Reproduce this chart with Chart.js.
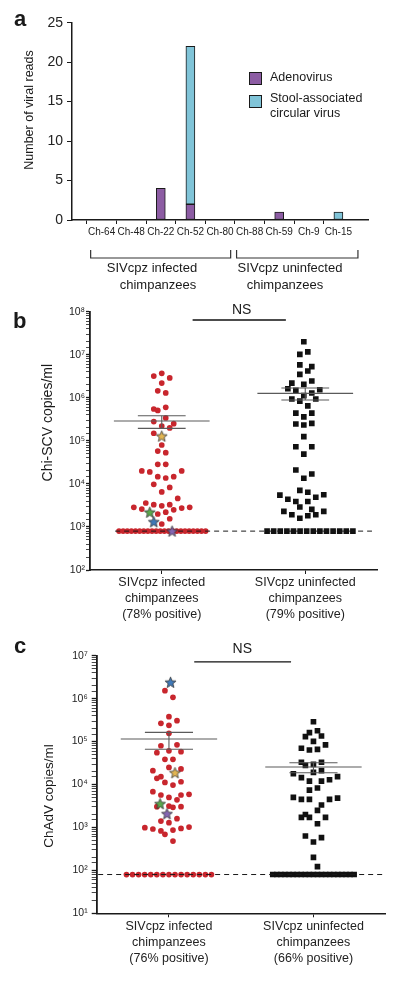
<!DOCTYPE html>
<html lang="en">
<head>
<meta charset="UTF-8">
<title>Stool viruses in SIVcpz infected and uninfected chimpanzees</title>
<script src="https://cdn.jsdelivr.net/npm/chart.js"></script>
<style>
  body { margin: 0; background: #fff; }
  #wrap { position: relative; width: 400px; height: 981px; }
  canvas { position: absolute; left: 0; }
</style>
</head>
<body>
<div id="wrap">
  <canvas id="chartA" width="400" height="293" style="top:0"></canvas>
  <canvas id="chartB" width="400" height="335" style="top:293px"></canvas>
  <canvas id="chartC" width="400" height="353" style="top:628px"></canvas>
</div>
<script>
// ---------- panel a: viral reads per chimp
const chimps     = ['Ch-64', 'Ch-48', 'Ch-22', 'Ch-52', 'Ch-80', 'Ch-88', 'Ch-59', 'Ch-9', 'Ch-15'];
const adenoReads = [0, 0, 4, 2, 0, 0, 1, 0, 0];
const scvReads   = [0, 0, 0, 20, 0, 0, 0, 0, 1];   // stacked on top of adeno
const readTicks  = [0, 5, 10, 15, 20, 25];

// ---------- panel b: Chi-SCV copies/ml (slot = beeswarm step left/right of the group)
const scvInfSlots = [-2,0,2,0,-1,1,-2,-1,1,1,-2,0,2,3,-2,0,-1,1,-1,1,-5,-3,5,-1,1,3,-2,2,0,4,-4,-2,0,2,-7,-5,3,5,7,-1,1,2,0];
const scvInfVals  = [3.2e6,3.7e6,2.9e6,2.2e6,1.45e6,1.3e6,5.5e5,5.1e5,6.0e5,3.4e5,2.8e5,2.2e5,2.0e5,2.5e5,1.5e5,8.0e4,5.8e4,5.3e4,2.85e4,2.85e4,
                     2.0e4,1.9e4,2.0e4,1.47e4,1.37e4,1.47e4,9.8e3,8.3e3,6.5e3,4.6e3,3.6e3,3.3e3,3.1e3,3.3e3,2.85e3,2.6e3,2.5e3,2.75e3,2.85e3,2.0e3,
                     2.2e3,1.55e3,1.17e3];
const scvInfStarSlots = [0, -3, -2, 2.6];
const scvInfStarVals  = [1.29e5, 2.2e3, 1.32e3, 800];
const scvInfNeg = 22;

const scvUninfSlots = [0,-1,1,-1,2,1,-1,-3,2,0,-4,-2,2,4,0,-3,-1,3,1,-2,2,0,-2,0,2,0,-2,2,0,-2,2,0,-1,1,-6,-4,-2,1,3,5,-1,-5,-3,-1,1,2,3,5];
const scvUninfVals  = [2.0e7,1.02e7,1.17e7,5.8e6,5.3e6,4.2e6,3.5e6,2.2e6,2.45e6,2.05e6,1.62e6,1.49e6,1.29e6,1.54e6,1.12e6,9.4e5,8.4e5,9.4e5,6.5e5,4.4e5,
                       4.4e5,3.6e5,2.46e5,2.33e5,2.55e5,1.25e5,7.3e4,7.3e4,4.9e4,2.1e4,1.7e4,1.35e4,7.1e3,6.4e3,5.5e3,4.4e3,3.9e3,3.9e3,4.9e3,5.6e3,
                       2.9e3,2.3e3,1.92e3,1.59e3,1.82e3,2.57e3,1.92e3,2.3e3];
const scvUninfNeg = 14;
const scvLOD = 800;
const scvMean = [2.9e5, 1.27e6];
const scvSemLo = [1.95e5, 8.9e5];
const scvSemHi = [3.83e5, 1.69e6];
const scvLabels = [['SIVcpz infected', 'chimpanzees', '(78% positive)'], ['SIVcpz uninfected', 'chimpanzees', '(79% positive)']];

// ---------- panel c: ChAdV copies/ml
const adInfSlots = [-1,1,0,-2,0,2,0,-2,2,-3,0,3,-1,1,0,-4,3,-3,-2,-1,1,3,-4,-2,0,3,5,2,-3,0,1,3,-2,0,2,-6,-4,-2,-1,1,3,5,1];
const adInfVals  = [1.53e6,1.07e6,3.8e5,2.66e5,2.39e5,3.06e5,1.56e5,8.0e4,8.4e4,5.5e4,6.1e4,5.8e4,3.86e4,3.86e4,2.5e4,2.1e4,2.3e4,1.39e4,1.52e4,1.12e4,
                    9.7e3,1.16e4,6.8e3,5.7e3,5.0e3,5.7e3,5.9e3,4.4e3,3.04e3,3.15e3,2.94e3,3.04e3,1.41e3,1.29e3,1.6e3,985,920,830,690,870,
                    950,1020,480];
const adInfStarSlots = [0.4, 1.5, -2.2, -0.5];
const adInfStarVals  = [2.4e6, 1.88e4, 3.57e3, 2.09e3];
const adInfNeg = 15;

const adUninfSlots = [0,-1,1,-2,2,0,-3,-1,1,3,-3,-2,0,2,-5,0,2,-3,-1,2,4,6,-1,1,-5,-3,-1,4,6,2,1,-3,-2,-1,3,1,-2,2,0,0,1];
const adUninfVals  = [2.9e5,1.61e5,1.79e5,1.30e5,1.35e5,1.01e5,7.0e4,6.35e4,6.6e4,8.4e4,3.3e4,2.8e4,2.95e4,3.3e4,1.78e4,1.92e4,2.1e4,1.44e4,1.2e4,1.2e4,
                      1.29e4,1.52e4,7.4e3,8.3e3,5.0e3,4.5e3,4.5e3,4.5e3,4.8e3,3.33e3,2.5e3,1.72e3,2.0e3,1.72e3,1.72e3,1.22e3,631,577,457,201,
                      122];
const adUninfNeg = 21;
const adLOD = 80;
const adMean = [1.15e5, 2.55e4];
const adSemLo = [6.6e4, 1.88e4];
const adSemHi = [1.64e5, 3.2e4];
const adLabels = [['SIVcpz infected', 'chimpanzees', '(76% positive)'], ['SIVcpz uninfected', 'chimpanzees', '(66% positive)']];

// ---------- styling
const FONT = "'Liberation Sans', Arial, Helvetica, sans-serif";
Chart.defaults.font.family = FONT;
Chart.defaults.color = '#222';
const PURPLE = '#8c5ca3', LIGHTBLUE = '#80c4d8', RED = '#c8262d', INK = '#1a1a1a', MEANGREY = '#5a5a5a';
const STAR_GOLD = '#e2b552', STAR_GREEN = '#5aa84c', STAR_BLUE = '#3f79b8', STAR_PURPLE = '#8466b2';
const SLOT = 0.0556;     // one beeswarm step in x units

function starImg(fill) {
  const c = document.createElement('canvas');
  c.width = c.height = 13;
  const g = c.getContext('2d');
  g.beginPath();
  for (let i = 0; i < 10; i++) {
    const r = i % 2 ? 2.5 : 5.8;
    const a = -Math.PI / 2 + i * Math.PI / 5;
    g.lineTo(6.5 + r * Math.cos(a), 7 + r * Math.sin(a));
  }
  g.closePath();
  g.fillStyle = fill; g.fill();
  g.strokeStyle = '#333'; g.lineWidth = 0.8; g.stroke();
  return c;
}

const swarm = (center, slots, vals) => vals.map((v, i) => ({ x: center + slots[i] * SLOT, y: v }));
const row = (n, center, step, y) => Array.from({ length: n }, (_, i) => ({ x: center + (i - (n - 1) / 2) * step, y }));
const seg = (x0, x1, y0, y1, color, width, dash) => ({
  type: 'scatter', showLine: true, pointRadius: 0, borderColor: color, borderWidth: width,
  borderDash: dash || [], data: [{ x: x0, y: y0 }, { x: x1, y: y1 }], order: 1
});
function meanSem(center, mean, lo, hi) {
  return [
    seg(center - 0.667, center + 0.667, mean, mean, MEANGREY, 1.1),
    seg(center - 0.333, center + 0.333, hi, hi, MEANGREY, 1.1),
    seg(center - 0.333, center + 0.333, lo, lo, MEANGREY, 1.1),
    seg(center, center, lo, hi, MEANGREY, 1.1)
  ];
}

const SUP = { '0': '⁰', '1': '¹', '2': '²', '3': '³', '4': '⁴', '5': '⁵', '6': '⁶', '7': '⁷', '8': '⁸', '9': '⁹' };
function powLabel(v) {
  const e = Math.log10(v);
  if (Math.abs(e - Math.round(e)) > 1e-6) return '';
  return '10' + String(Math.round(e)).split('').map(d => SUP[d]).join('');
}

// texts drawn straight onto a panel's canvas
function textPlugin(items, extra) {
  return {
    id: 'panelText',
    afterDraw(chart) {
      const ctx = chart.ctx;
      items.forEach(t => {
        ctx.save();
        ctx.font = t.font;
        ctx.fillStyle = '#1a1a1a';
        ctx.textAlign = t.align || 'center';
        ctx.textBaseline = t.base || 'middle';
        ctx.translate(t.x, t.y);
        if (t.rot) ctx.rotate(t.rot);
        ctx.fillText(t.text, 0, 0);
        ctx.restore();
      });
      if (extra) extra(chart);
    }
  };
}

// ================= panel a
const padRow = arr => [null, ...arr.map(v => v || null), null];
const lastIdx = chimps.length + 1;

new Chart(document.getElementById('chartA'), {
  type: 'bar',
  data: {
    labels: ['', ...chimps, ''],
    datasets: [
      { label: 'Adenovirus', data: padRow(adenoReads), backgroundColor: PURPLE, borderColor: INK, borderWidth: 1, borderSkipped: false, barThickness: 9 },
      { label: 'Stool-associated circular virus', data: padRow(scvReads), backgroundColor: LIGHTBLUE, borderColor: INK, borderWidth: 1, borderSkipped: false, barThickness: 9 }
    ]
  },
  options: {
    responsive: false, animation: false,
    layout: { padding: { top: 22.7, right: 32, left: 0, bottom: 0 } },
    plugins: { legend: { display: false }, tooltip: { enabled: false } },
    scales: {
      x: {
        stacked: true, offset: false,
        grid: { drawOnChartArea: false, tickLength: 4, color: c => (c.index === 0 || c.index === lastIdx) ? 'rgba(0,0,0,0)' : INK },
        border: { color: INK, width: 1.5 },
        ticks: { font: { size: 10 }, padding: 2, maxRotation: 0, autoSkip: false },
        afterFit: s => { s.height = 73; }
      },
      y: {
        stacked: true, min: 0, max: 25,
        afterBuildTicks: s => { s.ticks = readTicks.map(v => ({ value: v })); },
        ticks: { font: { size: 14 }, padding: 4 },
        grid: { drawOnChartArea: false, tickLength: 5, color: INK },
        border: { color: INK, width: 1.5 },
        afterFit: s => { s.width = 72; }
      }
    }
  },
  plugins: [textPlugin([
    { text: 'a', x: 14, y: 26, font: 'bold 22px ' + FONT, align: 'left', base: 'alphabetic' },
    { text: 'Number of viral reads', x: 30, y: 110, font: '12.5px ' + FONT, rot: -Math.PI / 2 },
    { text: 'Adenovirus', x: 270, y: 78, font: '12.5px ' + FONT, align: 'left' },
    { text: 'Stool-associated', x: 270, y: 99, font: '12.5px ' + FONT, align: 'left' },
    { text: 'circular virus', x: 270, y: 114, font: '12.5px ' + FONT, align: 'left' },
    { text: 'SIVcpz infected', x: 152, y: 268, font: '13px ' + FONT },
    { text: 'chimpanzees', x: 158, y: 285, font: '13px ' + FONT },
    { text: 'SIVcpz uninfected', x: 290, y: 268, font: '13px ' + FONT },
    { text: 'chimpanzees', x: 285, y: 285, font: '13px ' + FONT }
  ], chart => {
    const ctx = chart.ctx;
    const xs = chart.scales.x;
    // legend swatches
    [[PURPLE, 72], [LIGHTBLUE, 95]].forEach(([col, y]) => {
      ctx.fillStyle = col; ctx.fillRect(249, y, 13, 12.5);
      ctx.strokeStyle = INK; ctx.lineWidth = 1; ctx.strokeRect(249.5, y + 0.5, 12, 12);
    });
    // group brackets
    ctx.strokeStyle = '#333'; ctx.lineWidth = 1.2;
    [[0.63, 5.36], [5.56, 9.66]].forEach(([a, b]) => {
      const x0 = xs.getPixelForValue(a), x1 = xs.getPixelForValue(b);
      ctx.beginPath();
      ctx.moveTo(x0, 250); ctx.lineTo(x0, 258); ctx.lineTo(x1, 258); ctx.lineTo(x1, 250);
      ctx.stroke();
    });
  })]
});

// ================= panels b and c
function swarmPanel(id, cfg) {
  const groupX = [1, 3];
  const datasets = [
    { data: cfg.starPts, pointStyle: cfg.starImgs, pointRadius: 6, order: 0 },
    { data: cfg.dots, pointStyle: 'circle', pointRadius: 2.85, backgroundColor: RED, borderWidth: 0, order: 2 },
    { data: cfg.squares, pointStyle: 'rect', pointRadius: 4, backgroundColor: '#111', borderWidth: 0, order: 2 },
    seg(cfg.lodFrom, cfg.lodTo, cfg.lod, cfg.lod, INK, 1, [5, 4]),
    seg(cfg.nsFrom, cfg.nsTo, cfg.nsY, cfg.nsY, '#111', 1.4),
    ...meanSem(groupX[0], cfg.mean[0], cfg.lo[0], cfg.hi[0]),
    ...meanSem(groupX[1], cfg.mean[1], cfg.lo[1], cfg.hi[1])
  ];
  new Chart(document.getElementById(id), {
    type: 'scatter',
    data: { datasets },
    options: {
      responsive: false, animation: false,
      layout: { padding: { top: cfg.padTop, right: cfg.padRight, left: 0, bottom: 0 } },
      plugins: { legend: { display: false }, tooltip: { enabled: false } },
      scales: {
        x: {
          type: 'linear', min: 0, max: 4,
          afterBuildTicks: s => { s.ticks = groupX.map(v => ({ value: v })); },
          ticks: {
            callback: v => cfg.labels[v === 1 ? 0 : 1],
            font: { size: 12.5, lineHeight: 1.28 }, padding: cfg.xPad, maxRotation: 0, autoSkip: false
          },
          grid: { drawOnChartArea: false, tickLength: 4, color: INK },
          border: { color: INK, width: 1.5 },
          afterFit: s => { s.height = cfg.xHeight; }
        },
        y: {
          type: 'logarithmic', min: cfg.yMin, max: cfg.yMax,
          ticks: { autoSkip: false, callback: v => powLabel(v), font: { size: 10.5 }, padding: cfg.yPad },
          grid: {
            drawOnChartArea: false, tickLength: cfg.tickLen, color: INK,
            tickWidth: c => (c.tick && powLabel(c.tick.value)) ? 1.3 : 0.8
          },
          border: { color: INK, width: 1.8 },
          afterFit: s => { s.width = cfg.yWidth; }
        }
      }
    },
    plugins: [textPlugin(cfg.texts)]
  });
}

const starsBImgs = [STAR_GOLD, STAR_GREEN, STAR_BLUE, STAR_PURPLE].map(starImg);
swarmPanel('chartB', {
  starPts: swarm(1, scvInfStarSlots, scvInfStarVals), starImgs: starsBImgs,
  dots: swarm(1, scvInfSlots, scvInfVals).concat(row(scvInfNeg, 1.008, 0.0575, scvLOD)),
  squares: swarm(2.98, scvUninfSlots, scvUninfVals).concat(row(scvUninfNeg, 3.066, 0.092, scvLOD)),
  lod: scvLOD, lodFrom: 0.35, lodTo: 3.93,
  nsY: 6.4e7, nsFrom: 1.43, nsTo: 2.73,
  mean: scvMean, lo: scvSemLo, hi: scvSemHi, labels: scvLabels,
  yMin: 1e2, yMax: 1e8, padTop: 18.7, padRight: 23, xHeight: 58, yWidth: 90, xPad: 1, yPad: 1, tickLen: 4,
  texts: [
    { text: 'b', x: 13, y: 35.3, font: 'bold 22px ' + FONT, align: 'left', base: 'alphabetic' },
    { text: 'NS', x: 241.7, y: 17, font: '14px ' + FONT },
    { text: 'Chi-SCV copies/ml', x: 48, y: 129.7, font: '14px ' + FONT, rot: -Math.PI / 2 }
  ]
});

const starsCImgs = [STAR_BLUE, STAR_GOLD, STAR_GREEN, STAR_PURPLE].map(starImg);
swarmPanel('chartC', {
  starPts: swarm(1, adInfStarSlots, adInfStarVals), starImgs: starsCImgs,
  dots: swarm(1, adInfSlots, adInfVals).concat(row(adInfNeg, 1.0, 0.084, adLOD)),
  squares: swarm(3, adUninfSlots, adUninfVals).concat(row(adUninfNeg, 3.0, 0.0563, adLOD)),
  lod: adLOD, lodFrom: 0.02, lodTo: 4.0,
  nsY: 7.2e6, nsFrom: 1.35, nsTo: 2.69,
  mean: adMean, lo: adSemLo, hi: adSemHi, labels: adLabels,
  yMin: 1e1, yMax: 1e7, padTop: 27.7, padRight: 14.3, xHeight: 67.7, yWidth: 96.7, xPad: 1.6, yPad: 4, tickLen: 5,
  texts: [
    { text: 'c', x: 14, y: 25.3, font: 'bold 22px ' + FONT, align: 'left', base: 'alphabetic' },
    { text: 'NS', x: 242.3, y: 21.3, font: '14px ' + FONT },
    { text: 'ChAdV copies/ml', x: 49, y: 168, font: '13.5px ' + FONT, rot: -Math.PI / 2 }
  ]
});
</script>
</body>
</html>
